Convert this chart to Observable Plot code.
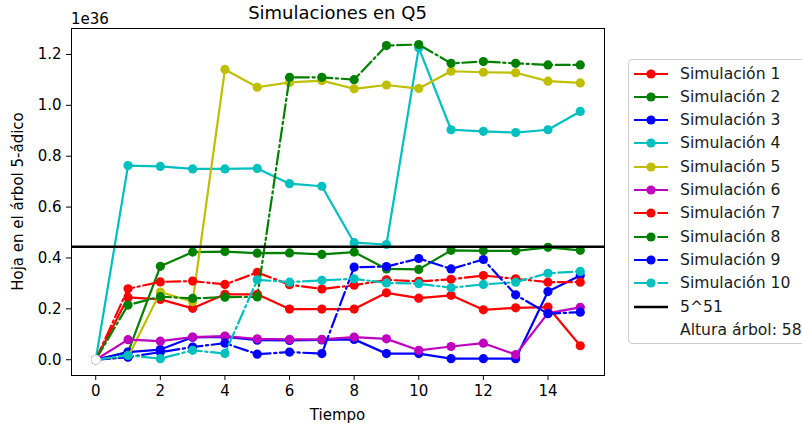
<!DOCTYPE html>
<html><head><meta charset="utf-8">
<script src="https://cdn.jsdelivr.net/npm/d3@7"></script>
<script src="https://cdn.jsdelivr.net/npm/@observablehq/plot@0.6"></script>
<style>
body{margin:0;background:#fff;font-family:"DejaVu Sans",sans-serif;}
#wrap{position:relative;width:802px;height:427px;overflow:hidden;background:#fff;}
#legend{position:absolute;left:628px;top:59px;width:200px;height:285px;border:1px solid #cccccc;border-radius:4px;background:#fff;box-sizing:border-box;}
.row{position:absolute;left:0;height:20px;display:flex;align-items:center;}
.row svg{margin-left:4px;}
.row span{margin-left:11px;font-size:15.6px;color:#1a1a1a;white-space:nowrap;}
</style></head><body><div id="wrap"><div id="legend"></div></div>
<script>
const tiempo = [0,1,2,3,4,5,6,7,8,9,10,11,12,13,14,15];
const sim1 = [0,0.245,0.237,0.202,0.257,0.257,0.199,0.199,0.199,0.263,0.242,0.253,0.196,0.204,0.207,0.055];
const sim2 = [0,0.030,0.367,0.423,0.425,0.419,0.420,0.414,0.423,0.357,0.355,0.430,0.428,0.428,0.442,0.430];
const sim3 = [0,0.030,0.040,0.088,0.090,0.077,0.076,0.078,0.080,0.024,0.024,0.004,0.004,0.004,0.268,0.331];
const sim4 = [0,0.763,0.760,0.750,0.750,0.752,0.692,0.682,0.460,0.453,1.226,0.904,0.898,0.893,0.904,0.976];
const sim5 = [0,0.010,0.266,0.228,1.141,1.071,1.090,1.097,1.065,1.080,1.066,1.134,1.130,1.128,1.095,1.088];
const sim6 = [0,0.079,0.073,0.089,0.093,0.082,0.080,0.080,0.089,0.082,0.037,0.052,0.065,0.020,0.183,0.206];
const sim7 = [0,0.279,0.306,0.309,0.296,0.343,0.295,0.278,0.293,0.314,0.308,0.316,0.331,0.318,0.305,0.305];
const sim8 = [0,0.215,0.248,0.241,0.246,0.247,1.110,1.110,1.101,1.235,1.239,1.165,1.172,1.165,1.159,1.159];
const sim9 = [0,0.010,0.030,0.050,0.065,0.022,0.030,0.024,0.364,0.366,0.398,0.357,0.394,0.255,0.181,0.187];
const sim10 = [0,0.017,0.004,0.037,0.024,0.314,0.305,0.312,0.318,0.302,0.299,0.283,0.296,0.305,0.340,0.347];
const nombres = ["Simulación 1","Simulación 2","Simulación 3","Simulación 4","Simulación 5","Simulación 6","Simulación 7","Simulación 8","Simulación 9","Simulación 10"];
const colores = ["#ff0000","#008000","#0000ff","#00bfbf","#bfbf00","#bf00bf","#ff0000","#008000","#0000ff","#00bfbf"];
const estilos = ["solid","solid","solid","solid","solid","solid","dashdot","dashdot","dashdot","dashdot"];
const limite = [Math.pow(5,51)/1e36];
const limiteNombre = "5^51";
const alturaNombre = "Altura árbol: 58";
const altura = [{t:0, v:0}];
const xTicks = [0,2,4,6,8,10,12,14];
const yTicks = [0.0,0.2,0.4,0.6,0.8,1.0,1.2];

const sims = [sim1,sim2,sim3,sim4,sim5,sim6,sim7,sim8,sim9,sim10];
const DASH = "14,3.6,2.2,3.6";
const LW = 2.2;
const R = 4.6;
const marks = [
  Plot.axisX(xTicks, {tickSize: 5, tickPadding: 5, fontSize: 15, label: null}),
  Plot.axisY(yTicks, {tickSize: 5, tickPadding: 5, fontSize: 15, tickFormat: d3.format(".1f"), label: null})
];
sims.forEach((s, i) => {
  const rows = tiempo.map((t, j) => ({t, v: s[j]}));
  marks.push(Plot.line(rows, {x: "t", y: "v", stroke: colores[i], strokeWidth: LW,
    strokeDasharray: estilos[i] === "dashdot" ? DASH : null}));
  marks.push(Plot.dot(rows, {x: "t", y: "v", fill: colores[i], r: R}));
});
marks.push(Plot.ruleY(limite, {stroke: "black", strokeWidth: 2.3}));
marks.push(Plot.dot(altura, {x: "t", y: "v", fill: "white", stroke: "#dfe6f2", strokeWidth: 0.8, r: R}));
marks.push(Plot.frame({stroke: "black", strokeWidth: 1}));

const chart = Plot.plot({
  width: 802, height: 427,
  marginLeft: 71, marginRight: 198, marginTop: 28, marginBottom: 52,
  x: {domain: [-0.75, 15.75]},
  y: {domain: [-0.062, 1.302]},
  style: {fontFamily: "DejaVu Sans", fontSize: "15px", color: "#000", background: "#fff", overflow: "visible"},
  marks
});
document.getElementById("wrap").prepend(chart);

const svg = d3.select(chart);
svg.append("text").attr("x", 337.5).attr("y", 19).attr("text-anchor", "middle")
  .style("font-size", "18px").attr("fill", "#000").text("Simulaciones en Q5");
svg.append("text").attr("x", 71).attr("y", 24).attr("text-anchor", "start")
  .style("font-size", "15px").attr("fill", "#000").text("1e36");
svg.append("text").attr("x", 337.5).attr("y", 420).attr("text-anchor", "middle")
  .style("font-size", "15px").attr("fill", "#000").text("Tiempo");
svg.append("text").attr("transform", "translate(23,201.5) rotate(-90)").attr("text-anchor", "middle")
  .style("font-size", "15px").attr("fill", "#000").text("Hoja en el árbol 5-ádico");

// legend
const leg = document.getElementById("legend");
const entries = nombres.map((n, i) => ({n, c: colores[i], d: estilos[i] === "dashdot" ? DASH : null, m: true}));
entries.push({n: limiteNombre, c: "#000", d: null, m: false, w: 2.5});
entries.push({n: alturaNombre, c: "#fff", d: null, m: false});
entries.forEach((e, i) => {
  const row = document.createElement("div");
  row.className = "row";
  row.style.top = (3.5 + 23.3 * i) + "px";
  const s = d3.create("svg").attr("width", 36).attr("height", 20);
  s.append("line").attr("x1", 1).attr("x2", 35).attr("y1", 10).attr("y2", 10)
    .attr("stroke", e.c).attr("stroke-width", e.w || LW).attr("stroke-dasharray", e.d);
  if (e.m) s.append("circle").attr("cx", 18).attr("cy", 10).attr("r", R).attr("fill", e.c);
  row.appendChild(s.node());
  const sp = document.createElement("span");
  sp.textContent = e.n;
  row.appendChild(sp);
  leg.appendChild(row);
});
</script></body></html>
